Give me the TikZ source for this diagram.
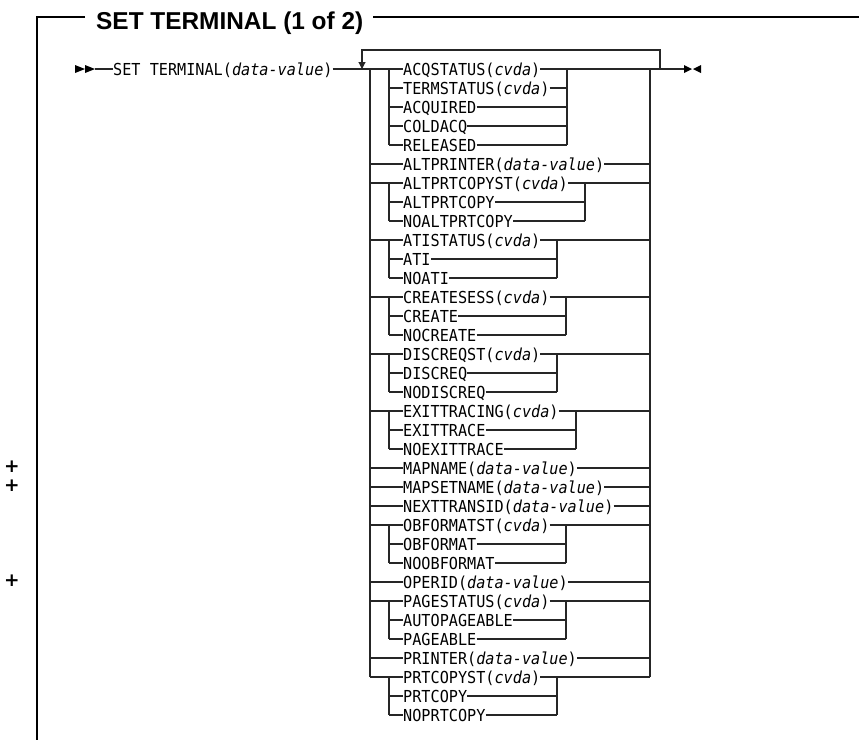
\documentclass[tikz,border=0pt]{standalone}
\usepackage{fontspec}
\setmonofont{DejaVu Sans Mono}[FakeStretch=0.92]
\setsansfont{Liberation Sans}
\newfontfamily\plusfont{DejaVu Sans}
\usetikzlibrary{arrows.meta}
\begin{document}
\begin{tikzpicture}[x=1pt,y=-1pt,
  lbl/.style={anchor=west, inner sep=0pt, font=\fontsize{16.5}{17}\selectfont\ttfamily, text height=12pt, text depth=0pt},
  conn/.style={line width=1.1pt, draw=black!85},
  frame/.style={line width=2pt, draw=black},
  plusmark/.style={inner sep=0pt, font=\fontsize{18.5}{18.5}\selectfont\plusfont\bfseries},
  titlestyle/.style={anchor=west, inner sep=0pt, font=\fontsize{24.4}{25}\selectfont\sffamily\bfseries, text height=17pt, text depth=0pt}]
\useasboundingbox (0,0) rectangle (859,740);

% frame and title
\node[titlestyle] (title) at (96,21) {SET TERMINAL (1 of 2)};
\coordinate (fa) at (85,17);
\coordinate (ftl) at (37,17);
\coordinate (fbl) at (37,740);
\coordinate (fb) at (373,17);
\coordinate (ftr) at (859,17);
\draw[frame] (fa) -- (ftl) -- (fbl);
\draw[frame] (fb) -- (ftr);

% change marks
\node[plusmark] (plus1) at (12,467) {+};
\node[plusmark] (plus2) at (12,486) {+};
\node[plusmark] (plus3) at (12,581) {+};

% start
\fill (75,65) -- (75,73) -- (85,69) -- cycle;
\fill (85,65) -- (85,73) -- (95,69) -- cycle;
\coordinate (start) at (95,69);
\node[lbl] (setterm) at (113,69) {SET TERMINAL(\textit{data-value})};

% rows
\foreach \nm/\i/\txt in {
  acqstatus/0/{ACQSTATUS(\textit{cvda})},
  termstatus/1/{TERMSTATUS(\textit{cvda})},
  acquired/2/{ACQUIRED},
  coldacq/3/{COLDACQ},
  released/4/{RELEASED},
  altprinter/5/{ALTPRINTER(\textit{data-value})},
  altprtcopyst/6/{ALTPRTCOPYST(\textit{cvda})},
  altprtcopy/7/{ALTPRTCOPY},
  noaltprtcopy/8/{NOALTPRTCOPY},
  atistatus/9/{ATISTATUS(\textit{cvda})},
  ati/10/{ATI},
  noati/11/{NOATI},
  createsess/12/{CREATESESS(\textit{cvda})},
  create/13/{CREATE},
  nocreate/14/{NOCREATE},
  discreqst/15/{DISCREQST(\textit{cvda})},
  discreq/16/{DISCREQ},
  nodiscreq/17/{NODISCREQ},
  exittracing/18/{EXITTRACING(\textit{cvda})},
  exittrace/19/{EXITTRACE},
  noexittrace/20/{NOEXITTRACE},
  mapname/21/{MAPNAME(\textit{data-value})},
  mapsetname/22/{MAPSETNAME(\textit{data-value})},
  nexttransid/23/{NEXTTRANSID(\textit{data-value})},
  obformatst/24/{OBFORMATST(\textit{cvda})},
  obformat/25/{OBFORMAT},
  noobformat/26/{NOOBFORMAT},
  operid/27/{OPERID(\textit{data-value})},
  pagestatus/28/{PAGESTATUS(\textit{cvda})},
  autopageable/29/{AUTOPAGEABLE},
  pageable/30/{PAGEABLE},
  printer/31/{PRINTER(\textit{data-value})},
  prtcopyst/32/{PRTCOPYST(\textit{cvda})},
  prtcopy/33/{PRTCOPY},
  noprtcopy/34/{NOPRTCOPY}}
  {\node[lbl] (\nm) at (403,{69+19*\i}) {\txt};}

% rails
\coordinate (L1) at (370,0);
\coordinate (L2) at (389,0);
\coordinate (R0) at (650,0);
\coordinate (loopL) at (362,69);
\coordinate (loopR) at (660,69);
\coordinate (endpt) at (684,69);

% main line
\draw[conn] (start) -- (setterm.west);
\draw[conn] (setterm.east) -- (acqstatus.west);
\draw[conn] (acqstatus.east) -- (endpt);
\fill (684,65) -- (684,73) -- (692,69) -- cycle;
\fill (701,65) -- (701,73) -- (693,69) -- cycle;

% repeat loop
\draw[conn, -{Triangle[width=7pt,length=7pt]}] (loopR) -- ++(0,-19) -| (loopL);

% outer rails
\draw[conn] (acqstatus.west -| L1) -- (prtcopyst.west -| L1);
\draw[conn] (acqstatus.east -| R0) -- (prtcopyst.east -| R0);

% first group
\coordinate (RA) at (567,0);
\draw[conn] (acqstatus.west -| L2) -- (released.west -| L2);
\draw[conn] (acqstatus.east -| RA) -- (released.east -| RA);
\foreach \m in {termstatus, acquired, coldacq, released}
  {\draw[conn] (\m.west -| L2) -- (\m.west);
   \draw[conn] (\m.east) -- (\m.east -| RA);}

% other groups
\foreach \f/\m/\l/\rx in {
  altprtcopyst/altprtcopy/noaltprtcopy/585,
  atistatus/ati/noati/557,
  createsess/create/nocreate/566,
  discreqst/discreq/nodiscreq/557,
  exittracing/exittrace/noexittrace/576,
  obformatst/obformat/noobformat/566,
  pagestatus/autopageable/pageable/566,
  prtcopyst/prtcopy/noprtcopy/557}
  {\coordinate (RX) at (\rx,0);
   \draw[conn] (\f.west -| L1) -- (\f.west);
   \draw[conn] (\f.west -| L2) -- (\l.west -| L2);
   \draw[conn] (\m.west -| L2) -- (\m.west);
   \draw[conn] (\l.west -| L2) -- (\l.west);
   \draw[conn] (\f.east) -- (\f.east -| R0);
   \draw[conn] (\f.east -| RX) -- (\l.east -| RX);
   \draw[conn] (\m.east) -- (\m.east -| RX);
   \draw[conn] (\l.east) -- (\l.east -| RX);}

% single items
\foreach \s in {altprinter, mapname, mapsetname, nexttransid, operid, printer}
  {\draw[conn] (\s.west -| L1) -- (\s.west);
   \draw[conn] (\s.east) -- (\s.east -| R0);}
\end{tikzpicture}
\end{document}
